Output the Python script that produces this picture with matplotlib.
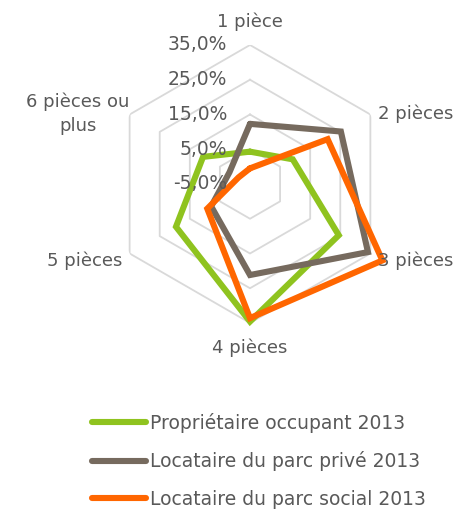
import numpy as np
import matplotlib.pyplot as plt

categories = ['1 pièce', '2 pièces', '3 pièces', '4 pièces', '5 pièces', '6 pièces ou\nplus']
proprietaire = [4.3, 9.2, 24.5, 34.6, 19.6, 10.6]
locataire_prive = [12.3, 25.2, 34.2, 21.2, 7.9, 1.8]
locataire_social = [-0.5, 20.8, 39.0, 33.6, 9.2, -1.2]
series_names = ['Propriétaire occupant 2013', 'Locataire du parc privé 2013',
                'Locataire du parc social 2013']
rings = [-5, 5, 15, 25, 35]
ring_labels = ['-5,0%', '5,0%', '15,0%', '25,0%', '35,0%']

text_col = '#595959'
colors = ['#8fc31f', '#766a5e', '#ff6600']

fig = plt.figure(figsize=(4.59, 5.13), dpi=100)
ax = fig.add_axes([0.2418, 0.3704, 0.6057, 0.5419], projection='polar')
ax.set_theta_offset(np.pi / 2)
ax.set_theta_direction(-1)
ax.set_rlim(-5, 35)
ax.grid(False)
ax.set_xticks([])
ax.set_yticks([])
ax.spines['polar'].set_visible(False)
ax.patch.set_alpha(0)

theta = np.linspace(0, 2 * np.pi, len(categories), endpoint=False)
theta_c = np.append(theta, theta[0])

# hexagonal grid
for r in rings[1:]:
    ax.plot(theta_c, [r] * len(theta_c), color='#d9d9d9', lw=1.3, zorder=1)

for vals, col, name in zip([proprietaire, locataire_prive, locataire_social], colors, series_names):
    v = np.append(vals, vals[0])
    ln, = ax.plot(theta_c, v, color=col, lw=4.4, label=name, zorder=3,
                  solid_joinstyle='miter', solid_capstyle='round')
    ln.set_clip_on(False)

# radial tick labels
for r, lab in zip(rings, ring_labels):
    ax.annotate(lab, xy=(0, r), xytext=(-23, 0), textcoords='offset pixels',
                ha='right', va='center', fontsize=13.5, color=text_col,
                annotation_clip=False, zorder=4)

# category labels
offsets = [(0, 23, 'center'), (8, 1, 'left'), (8, -7, 'left'),
           (0, -25, 'center'), (-7, -7, 'right'), (-52, 1, 'center')]
for t, lab, (dx, dy, ha) in zip(theta, categories, offsets):
    ax.annotate(lab, xy=(t, 35), xytext=(dx, dy), textcoords='offset pixels',
                ha=ha, va='center', multialignment='center', fontsize=13,
                color=text_col, annotation_clip=False, linespacing=1.45)

leg = fig.legend(loc='upper left', bbox_to_anchor=(92 / 459, 1 - 413 / 513),
                 frameon=False, fontsize=13.5, handlelength=2.9, handletextpad=0.2,
                 labelspacing=0.98, borderpad=0, borderaxespad=0)
for txt in leg.get_texts():
    txt.set_color(text_col)

fig.savefig('out.png', dpi=100)
